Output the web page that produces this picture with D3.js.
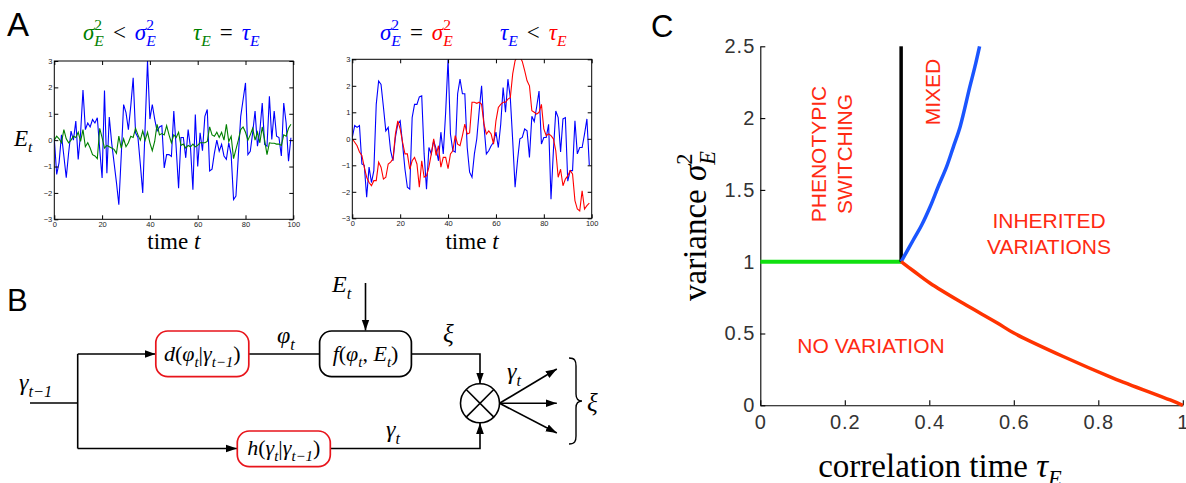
<!DOCTYPE html>
<html>
<head>
<meta charset="utf-8">
<script src="https://cdnjs.cloudflare.com/ajax/libs/d3/7.8.5/d3.min.js"></script>
<style>
  body { margin: 0; background: #fff; }
  text { white-space: pre; }
</style>
</head>
<body>
<script>
// ---- panel A data: two pairs of noise traces, t = 0..99
var steps = d3.range(100)
var a1Blue = [0.05,-1.3,-0.85,0.2,-0.6,-1.42,-0.48,0.34,0,0.72,-0.73,0.27,1.9,0.4,0.65,0.5,0.78,0.65,0.85,-0.35,
  -1.43,1.88,-1.25,0.88,-0.1,-0.85,-1.6,-2.45,-0.6,1.35,1.04,0.4,1.3,2.36,0.28,0.1,-0.92,-2.0,0.5,3.0,
  0.8,1.35,0.8,0.35,0.5,0.55,-1.05,-0.55,-0.55,-0.62,1.1,-0.3,-1.82,0.1,0.1,-0.67,0.4,-0.3,-1.88,0.97,
  -1.0,0.28,-0.4,0.9,1.16,-1.17,-1.1,-0.48,0,-0.42,-0.16,-0.6,-0.73,-0.1,-0.55,-2.25,-2.12,-0.6,0.9,1.54,
  2.17,-0.55,-0.42,0.28,1.1,-0.23,0.34,1.41,-0.16,-0.23,1.66,0.03,1.1,0.15,0.1,-0.6,1.41,0.65,-0.8,0.09]
var a1Green = [0,0.15,0.05,-0.1,0.4,0.05,-0.1,0,0.15,0.1,0.3,-0.05,0.4,-0.25,-0.1,-0.3,-0.55,-0.6,-0.7,0.45,
  0.1,-0.3,-0.2,-0.25,-0.3,-0.35,-0.5,0.15,-0.3,0.05,-0.25,-0.1,0.15,0.1,0.45,0.2,0,0.35,0,0.3,
  -0.1,-0.4,-0.05,0.6,0.2,0.25,0.2,0.55,0.2,-0.1,0.2,0.1,0.3,-0.2,-0.15,-0.3,-0.2,-0.25,-0.15,-0.25,
  -0.2,-0.1,-0.1,-0.1,-0.05,0.5,0.2,0.15,0.3,0.1,0.3,0,0.6,-0.05,0.15,-0.7,-0.35,0,0.4,0.5,
  0.3,0,0.2,0.45,0,0.3,-0.1,0.5,0,-0.55,-0.1,-0.12,-0.12,-0.15,-0.15,-0.2,0.2,0.15,0.45,0.6]
var a2Blue = [0.05,0.5,0.43,0.5,-0.95,-1.0,-2.2,-1.07,-1.65,-1.2,1.3,2.18,2.05,1.2,0.3,0.43,-0.45,-0.83,0.05,0.55,
  0.68,-0.2,-1.15,-1.83,-1.9,0.8,1.3,1.3,1.58,1.62,-0.57,-1.9,-0.33,-0.57,-0.07,-0.38,-0.83,0.25,-0.57,1.0,
  3.0,0.18,-0.45,-0.5,1.7,2.25,1.7,1.7,-0.33,-1.26,-1.45,-0.57,0,1.05,2.0,0.5,-0.57,-0.45,-0.26,-0.13,
  0.25,-0.33,0.55,1.93,1.0,2.25,1.55,-0.07,-1.83,-0.83,0,0.05,0.37,0.3,-0.7,0.85,0.65,1.2,1.8,-0.2,
  0.05,0.05,0.55,-2.28,-0.45,1.05,0.8,-0.5,0.75,0.8,-1.6,-1.2,-1.2,0.68,-0.57,-0.33,-0.33,0.18,0.75,-1.0]
var a2Red = [0,-0.13,-0.26,-0.5,-0.63,-1.07,-1.45,-1.65,-1.77,-1.58,-1.58,-0.88,-1.07,-1.52,-1.45,-0.95,-0.88,-0.76,0.18,0.68,
  0.37,-0.13,-0.57,-0.57,-1.15,-0.83,-0.7,-0.95,-1.83,-0.83,-1.45,-1.4,-1.07,-0.57,0,-0.63,-0.26,-1.07,-0.7,-0.7,
  -1.13,-0.57,-0.45,0.12,-0.2,-0.26,0.12,0.55,0.18,0.22,1.38,1.38,1.34,1.38,1.3,0.55,0.18,0.3,0.18,-0.2,
  0.68,1.18,1.3,1.38,1.38,1.5,1.55,2.45,2.95,3.1,3.1,2.92,2.57,2.19,2.0,1.06,1.0,0.93,1.0,1.3,
  0.37,0.12,0.18,0.12,0,-0.45,-1.45,-1.15,-1.77,-1.52,-1.4,-1.2,-1.33,-2.33,-2.65,-2.72,-1.96,-2.65,-2.52,-2.43]
var timeTicks = [0, 20, 40, 60, 80, 100]
var envTicks = [-3, -2, -1, 0, 1, 2, 3]

// ---- panel C data: phase boundaries in (tau_E, sigma_E^2)
var switchTau = [0, 1/3]
var switchVar = [1, 1]
var verticalTau = [1/3, 1/3]
var verticalVar = [1, 2.5]
var mixedTau = [1/3, 0.362, 0.382, 0.402, 0.421, 0.441, 0.457, 0.473, 0.496, 0.508, 0.519]
var mixedVar = [1, 1.151, 1.256, 1.383, 1.522, 1.662, 1.8, 1.94, 2.219, 2.358, 2.5]
var noVarTau = [1/3, 0.362, 0.402, 0.48, 0.56, 0.599, 0.717, 0.835, 0.97, 1]
var noVarVar = [1, 0.937, 0.85, 0.71, 0.575, 0.505, 0.34, 0.19, 0.037, 0]
var tauTicks = [0, 0.2, 0.4, 0.6, 0.8, 1]
var varTicks = [0, 0.5, 1, 1.5, 2, 2.5]

var serif = '"Liberation Serif", "DejaVu Serif", serif'
var sans = '"Liberation Sans", Arial, sans-serif'

var svg = d3.select('body').append('svg').attr('width', 1186).attr('height', 483)
svg.append('rect').attr('width', 1186).attr('height', 483).attr('fill', '#fff')

var defs = svg.append('defs')
defs.append('marker').attr('id', 'arr')
    .attr('viewBox', '0 0 10 10').attr('refX', 10).attr('refY', 5)
    .attr('markerWidth', 11).attr('markerHeight', 11).attr('markerUnits', 'userSpaceOnUse')
    .attr('orient', 'auto')
  .append('path').attr('d', 'M0,1.5 L10,5 L0,8.5 Z').attr('fill', '#000')

// small helper for math-ish text: pieces {s, c, i, sup, sub, dx}
function math(g, x, y, size, pieces, anchor) {
    var t = g.append('text').attr('x', x).attr('y', y)
        .attr('font-family', serif).attr('font-size', size)
        .attr('text-anchor', anchor || 'start')
    var cur = 0
    pieces.forEach(function(p) {
        var target = 0, fs = size
        if (p.sup) { target = -0.42 * size; fs = 0.68 * size }
        if (p.sub) { target = 0.28 * size; fs = 0.68 * size }
        var sp = t.append('tspan').text(p.s)
            .attr('fill', p.c || '#000')
            .attr('font-style', p.i ? 'italic' : 'normal')
            .attr('font-size', fs)
            .attr('dy', target - cur)
        if (p.dx) sp.attr('dx', p.dx)
        cur = target
    })
    return t
}
function sig2(c, size) {  // sigma^2_E with stacked scripts
    return [{s: 'σ', c: c, i: true}, {s: '2', c: c, sup: true}, {s: 'E', c: c, i: true, sub: true, dx: -0.34 * size}]
}
function tauE(c) {
    return [{s: 'τ', c: c, i: true}, {s: 'E', c: c, i: true, sub: true}]
}
function rel(s) { return {s: s, dx: 9} }

// panel letters
svg.append('text').attr('x', 7).attr('y', 36).text('A').attr('font-family', sans).attr('font-size', 33)
svg.append('text').attr('x', 7).attr('y', 311).text('B').attr('font-family', sans).attr('font-size', 31)
svg.append('text').attr('x', 651).attr('y', 37).text('C').attr('font-family', sans).attr('font-size', 31)

// ---- panel A: time series plots
function tracePlot(left, right, top, bottom, series) {
    var x = d3.scaleLinear().domain([0, 100]).range([left, right])
    var y = d3.scaleLinear().domain([-3, 3]).range([bottom, top])
    var g = svg.append('g')
    var id = 'clip' + Math.round(left)
    defs.append('clipPath').attr('id', id).append('rect')
        .attr('x', left).attr('y', top).attr('width', right - left).attr('height', bottom - top)

    var line = d3.line().x(function(d, i) { return x(steps[i]) }).y(function(d) { return y(d) })
    series.forEach(function(s) {
        g.append('path').attr('d', line(s.values)).attr('clip-path', 'url(#' + id + ')')
            .attr('fill', 'none').attr('stroke', s.color).attr('stroke-width', 1.1)
    })

    var fmt = function(d) { return d < 0 ? '\u2212' + Math.abs(d) : d }
    var axes = [
        d3.axisBottom(x).tickValues(timeTicks).tickFormat(fmt),
        d3.axisTop(x).tickValues(timeTicks).tickFormat(''),
        d3.axisLeft(y).tickValues(envTicks).tickFormat(fmt),
        d3.axisRight(y).tickValues(envTicks).tickFormat('')
    ]
    var pos = [[0, bottom], [0, top], [left, 0], [right, 0]]
    axes.forEach(function(ax, k) {
        var a = g.append('g').attr('transform', 'translate(' + pos[k][0] + ',' + pos[k][1] + ')')
            .call(ax.tickSizeInner(-4).tickSizeOuter(0).tickPadding(2))
        a.select('.domain').remove()
        a.selectAll('text').attr('font-family', sans).attr('font-size', 7.5).attr('fill', '#222')
        a.selectAll('line').attr('stroke', '#000')
    })
    g.append('rect').attr('x', left).attr('y', top).attr('width', right - left).attr('height', bottom - top)
        .attr('fill', 'none').attr('stroke', '#000').attr('stroke-width', 1)
    math(g, (left + right) / 2, 249, 23, [{s: 'time '}, {s: 't', i: true}], 'middle')
    return g
}

tracePlot(54.3, 293.3, 61, 219.3, [{values: a1Blue, color: '#0000ff'}, {values: a1Green, color: '#008000'}])
tracePlot(352.3, 591.7, 59.3, 218.3, [{values: a2Blue, color: '#0000ff'}, {values: a2Red, color: '#ff0000'}])

math(svg, 14, 146, 23, [{s: 'E', i: true}, {s: 't', i: true, sub: true}])

var green = '#008000', blue = '#0000ff', red = '#ff0000'
math(svg, 83, 40, 23, sig2(green, 23).concat([rel('<')]).concat([{s: 'σ', c: blue, i: true, dx: 9}, {s: '2', c: blue, sup: true}, {s: 'E', c: blue, i: true, sub: true, dx: -7.8}]))
math(svg, 193, 40, 23, tauE(green).concat([rel('=')]).concat([{s: 'τ', c: blue, i: true, dx: 9}, {s: 'E', c: blue, i: true, sub: true}]))
math(svg, 380, 40, 23, sig2(blue, 23).concat([rel('=')]).concat([{s: 'σ', c: red, i: true, dx: 9}, {s: '2', c: red, sup: true}, {s: 'E', c: red, i: true, sub: true, dx: -7.8}]))
math(svg, 500, 40, 23, tauE(blue).concat([rel('<')]).concat([{s: 'τ', c: red, i: true, dx: 9}, {s: 'E', c: red, i: true, sub: true}]))

// ---- panel B: block diagram
var gB = svg.append('g').attr('stroke-linejoin', 'miter')
function seg(pts, arrow) {
    var p = gB.append('path').attr('d', d3.line()(pts)).attr('fill', 'none')
        .attr('stroke', '#000').attr('stroke-width', 1.6)
    if (arrow) p.attr('marker-end', 'url(#arr)')
}
function box(x0, y0, w, h, col) {
    gB.append('rect').attr('x', x0).attr('y', y0).attr('width', w).attr('height', h)
        .attr('rx', 12).attr('fill', '#fff').attr('stroke', col).attr('stroke-width', 1.7)
}
seg([[30, 403], [77.7, 403]])
seg([[77.7, 354], [77.7, 448.5]])
seg([[77.7, 354], [155.5, 354]], true)
seg([[77.7, 448.5], [237, 448.5]], true)
seg([[248.8, 354], [319.6, 354]])
seg([[411.4, 354], [480, 354], [480, 383.5]], true)
seg([[365.5, 283], [365.5, 330.5]], true)
seg([[330.3, 448.5], [480, 448.5], [480, 423]], true)
box(155.8, 331, 93, 45.7, '#e8141b')
box(319.6, 331, 91.8, 45.7, '#000')
box(237.3, 431, 93, 35.7, '#e8141b')
gB.append('circle').attr('cx', 480).attr('cy', 403.3).attr('r', 19.5)
    .attr('fill', '#fff').attr('stroke', '#000').attr('stroke-width', 1.6)
var k = 19.5 * Math.SQRT1_2
seg([[480 - k, 403.3 - k], [480 + k, 403.3 + k]])
seg([[480 - k, 403.3 + k], [480 + k, 403.3 - k]])
seg([[499.5, 403.3], [556.8, 369]], true)
seg([[499.5, 403.3], [556.8, 403.3]], true)
seg([[499.5, 403.3], [556.8, 433]], true)
gB.append('path').attr('fill', 'none').attr('stroke', '#000').attr('stroke-width', 1.4)
    .attr('d', 'M569,358 C575,358 576,361 576,366 L576,394 C576,399 578,401 582,401 C578,401 576,403 576,408 L576,436 C576,441 575,444 569,444')

math(svg, 202.3, 361, 22, [{s: 'd', i: true}, {s: '('}, {s: 'φ', i: true}, {s: 't', i: true, sub: true}, {s: '|'},
    {s: 'γ', i: true}, {s: 't−1', i: true, sub: true}, {s: ')'}], 'middle')
math(svg, 365.5, 361, 22, [{s: 'f', i: true}, {s: '('}, {s: 'φ', i: true}, {s: 't', i: true, sub: true}, {s: ', '},
    {s: 'E', i: true}, {s: 't', i: true, sub: true}, {s: ')'}], 'middle')
math(svg, 283.8, 455, 22, [{s: 'h', i: true}, {s: '('}, {s: 'γ', i: true}, {s: 't', i: true, sub: true}, {s: '|'},
    {s: 'γ', i: true}, {s: 't−1', i: true, sub: true}, {s: ')'}], 'middle')
math(svg, 19, 390, 24, [{s: 'γ', i: true}, {s: 't−1', i: true, sub: true}])
math(svg, 277, 343, 24, [{s: 'φ', i: true}, {s: 't', i: true, sub: true}])
math(svg, 332, 292, 24, [{s: 'E', i: true}, {s: 't', i: true, sub: true}])
math(svg, 443, 342, 25, [{s: 'ξ', i: true}])
math(svg, 386, 437, 24, [{s: 'γ', i: true}, {s: 't', i: true, sub: true}])
math(svg, 507, 379, 24, [{s: 'γ', i: true}, {s: 't', i: true, sub: true}])
math(svg, 587, 411, 25, [{s: 'ξ', i: true}])

// ---- panel C: phase diagram
var xC = d3.scaleLinear().domain([0, 1]).range([760.3, 1182.8])
var yC = d3.scaleLinear().domain([0, 2.5]).range([405.3, 46.3])
var gC = svg.append('g')

gC.append('g').attr('transform', 'translate(0,405.3)')
    .call(d3.axisBottom(xC).tickValues(tauTicks).tickFormat(d3.format('')).tickSizeInner(-5).tickSizeOuter(0).tickPadding(10))
gC.append('g').attr('transform', 'translate(760.3,0)')
    .call(d3.axisLeft(yC).tickValues(varTicks).tickFormat(d3.format('')).tickSizeInner(-5).tickSizeOuter(0).tickPadding(5))
gC.selectAll('.tick text').attr('font-family', sans).attr('font-size', 20).attr('letter-spacing', 1).attr('fill', '#333')
gC.selectAll('.domain, .tick line').attr('stroke', '#000').attr('stroke-width', 1.1)

var lineC = d3.line().curve(d3.curveCatmullRom)
function curveC(ts, vs) { return lineC(ts.map(function(t, i) { return [xC(t), yC(vs[i])] })) }
gC.append('path').attr('d', curveC(switchTau, switchVar)).attr('fill', 'none').attr('stroke', '#10e010').attr('stroke-width', 4)
gC.append('path').attr('d', d3.line()(verticalTau.map(function(t, i) { return [xC(t), yC(verticalVar[i])] })))
    .attr('fill', 'none').attr('stroke', '#000').attr('stroke-width', 3.5)
gC.append('path').attr('d', curveC(mixedTau, mixedVar)).attr('fill', 'none').attr('stroke', '#1a55ff').attr('stroke-width', 3.5)
gC.append('path').attr('d', curveC(noVarTau, noVarVar)).attr('fill', 'none').attr('stroke', '#ff3300').attr('stroke-width', 3.5)

var regionRed = '#ff2a12'
function regionText(x, y, txt, rot) {
    gC.append('text').attr('transform', 'translate(' + x + ',' + y + ')' + (rot ? ' rotate(-90)' : ''))
        .attr('text-anchor', 'middle').attr('font-family', sans).attr('font-size', 21)
        .attr('fill', regionRed).text(txt)
}
regionText(826, 154, 'PHENOTYPIC', true)
regionText(852, 154, 'SWITCHING', true)
regionText(940, 92, 'MIXED', true)
regionText(1049, 228, 'INHERITED')
regionText(1049, 254, 'VARIATIONS')
regionText(871, 353, 'NO VARIATION')

math(svg, 940, 477, 33, [{s: 'correlation time '}, {s: 'τ', i: true}, {s: 'E', i: true, sub: true}], 'middle')
var yl = math(svg, 0, 0, 33, [{s: 'variance '}].concat(sig2('#000', 33)), 'middle')
yl.attr('x', null).attr('y', null).attr('transform', 'translate(706,226) rotate(-90)')
</script>
</body>
</html>
